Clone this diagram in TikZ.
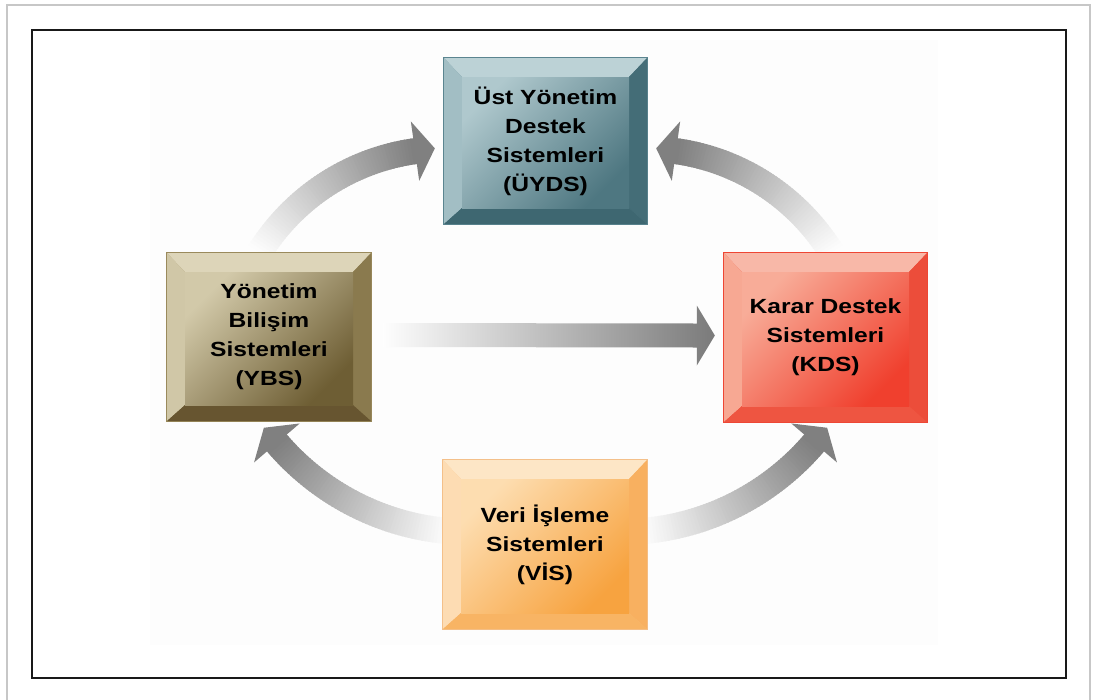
\documentclass[tikz,border=0pt]{standalone}
\usepackage{fontspec}
\newfontfamily\boxfont{Liberation Sans}[FakeStretch=1.2]
\usetikzlibrary{calc}

% palettes: border, four bevels, face highlight and face shadow
\definecolor{uyBorder}{HTML}{5B8590}
\definecolor{uyTop}{HTML}{BCD2D6}
\definecolor{uyLeft}{HTML}{A2BEC4}
\definecolor{uyRight}{HTML}{446D77}
\definecolor{uyBottom}{HTML}{3E6771}
\definecolor{uyHi}{HTML}{AFC8CD}
\definecolor{uyLo}{HTML}{4E7781}

\definecolor{ybBorder}{HTML}{9A8A5C}
\definecolor{ybTop}{HTML}{DDD5B9}
\definecolor{ybLeft}{HTML}{D0C7A7}
\definecolor{ybRight}{HTML}{8A7A4E}
\definecolor{ybBottom}{HTML}{675530}
\definecolor{ybHi}{HTML}{D2C9A9}
\definecolor{ybLo}{HTML}{6E5E34}

\definecolor{kdBorder}{HTML}{EE4634}
\definecolor{kdTop}{HTML}{F8B8A8}
\definecolor{kdLeft}{HTML}{F7A893}
\definecolor{kdRight}{HTML}{EC4D3A}
\definecolor{kdBottom}{HTML}{EE5541}
\definecolor{kdHi}{HTML}{F8AC98}
\definecolor{kdLo}{HTML}{F0402E}

\definecolor{viBorder}{HTML}{F4C08A}
\definecolor{viTop}{HTML}{FDE6C6}
\definecolor{viLeft}{HTML}{FDDCB3}
\definecolor{viRight}{HTML}{F8B060}
\definecolor{viBottom}{HTML}{F8B464}
\definecolor{viHi}{HTML}{FDDDB0}
\definecolor{viLo}{HTML}{F7A340}

\tikzset{
  boxtext/.style={font={\boxfont\bfseries\fontsize{20.5}{29}\selectfont},
    align=center, text=black, inner sep=0pt},
}

% bevelled box: name, upper-left x/y, lower-right x/y, palette, label
\newcommand\bevelbox[7]{%
  \fill[#6Border] (#2,#3) rectangle (#4,#5);
  \fill[#6Top] (#2+1,#3+1) -- (#4-1,#3+1) -- (#4-19,#3+20) -- (#2+19,#3+20) -- cycle;
  \fill[#6Left] (#2+1,#3+1) -- (#2+19,#3+20) -- (#2+19,#5-17) -- (#2+1,#5-1) -- cycle;
  \fill[#6Right] (#4-1,#3+1) -- (#4-1,#5-1) -- (#4-19,#5-17) -- (#4-19,#3+20) -- cycle;
  \fill[#6Bottom] (#2+1,#5-1) -- (#4-1,#5-1) -- (#4-19,#5-17) -- (#2+19,#5-17) -- cycle;
  \shade[top color=#6Hi, bottom color=#6Lo, shading angle=45]
    (#2+19,#3+20) rectangle (#4-19,#5-17);
  \pgfmathsetmacro\bw{#4-#2}%
  \pgfmathsetmacro\bh{#5-#3}%
  \node[boxtext, minimum width=\bw pt, minimum height=\bh pt]
    (#1) at ({(#2+#4)/2},{(#3+#5)/2}) {#7};
}

% curved arrow along a circle: centre x/y, radius, tail angle, head-base angle
\newcommand\arcarrow[5]{%
  \begin{scope}[shift={(#1,#2)}]
    \pgfmathsetmacro\ri{#3-13}%
    \pgfmathsetmacro\ro{#3+13}%
    \foreach \i in {0,...,59}{
      \pgfmathsetmacro\aa{#4+(#5-#4)*\i/60}
      \pgfmathsetmacro\bb{#4+(#5-#4)*(\i+1.5)/60}
      \pgfmathsetmacro\kk{1+49*\i/59}
      \fill[black!\kk] (\aa:\ri) -- (\bb:\ri) -- (\bb:\ro) -- (\aa:\ro) -- cycle;
    }
    \pgfmathsetmacro\hd{#5+90*sign(#5-#4)}%
    \pgfmathsetmacro\hi{#3-30}%
    \pgfmathsetmacro\ho{#3+30}%
    \fill[black!50] (#5:\ho) -- ($(#5:#3)+(\hd:20)$) -- (#5:\hi) -- cycle;
  \end{scope}
}

\begin{document}
\begin{tikzpicture}[x=1pt,y=-1pt]
  \useasboundingbox (0,0) rectangle (1094,699);
  \fill[white] (0,0) rectangle (1094,699);

  % page frame and panel
  \draw[line width=2pt, black!22] (7,710) -- (7,5) -- (1090,5) -- (1090,710);
  \fill[black!0.6] (150,40) rectangle (938,645);
  \draw[line width=2pt, black!90] (32,30) rectangle (1066,678);

  % curved flow arrows
  \arcarrow{445.5}{368}{219}{212}{262}
  \arcarrow{645.5}{368}{219}{-32}{-82}
  \arcarrow{470}{278}{254}{95}{139.5}
  \arcarrow{621}{278}{254}{85}{40.5}

  % the four systems
  \bevelbox{uyds}{443}{57}{648}{225}{uy}{Üst Yönetim\\Destek\\Sistemleri\\(ÜYDS)}
  \bevelbox{ybs}{166}{252}{372}{422}{yb}{Yönetim\\Bilişim\\Sistemleri\\(YBS)}
  \bevelbox{kds}{723}{252}{928}{423}{kd}{Karar Destek\\Sistemleri\\(KDS)}
  \bevelbox{vis}{442}{459}{648}{630}{vi}{Veri İşleme\\Sistemleri\\(VİS)}

  % straight arrow from YBS to KDS
  \coordinate (hs) at ($(ybs.east)+(11,-2)$);
  \coordinate (he) at ($(kds.west)+(-8,-2)$);
  \shade[left color=black!0.6, right color=black!52]
    ($(hs)+(0,-12)$) -- ($(he)+(-18,-12)$) -- ($(he)+(-18,-30)$) -- (he)
    -- ($(he)+(-18,30)$) -- ($(he)+(-18,12)$) -- ($(hs)+(0,12)$) -- cycle;
\end{tikzpicture}
\end{document}
